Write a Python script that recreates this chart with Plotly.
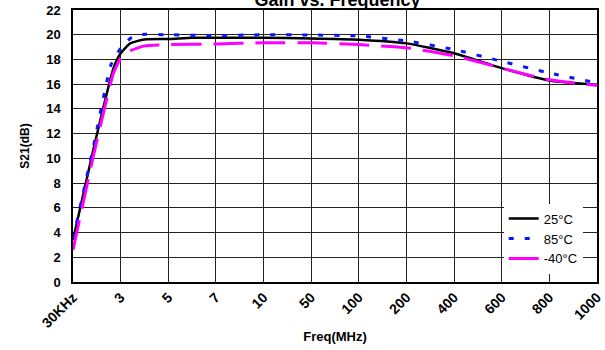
import plotly.graph_objects as go

tick_labels = ["30KHz", "3", "5", "7", "10", "50", "100", "200", "400", "600", "800", "1000"]

# positions along the evenly spaced category axis (0 = 30KHz ... 11 = 1000 MHz)
x_25 = [0, 0.42, 0.85, 1.0, 1.2, 1.5, 2, 2.5, 3, 4, 5, 6, 7, 8, 9, 10, 10.5, 11]
s21_25 = [3.4, 10.6, 17.3, 18.5, 19.3, 19.62, 19.65, 19.75, 19.75, 19.75, 19.7, 19.6, 19.3, 18.5, 17.3, 16.3, 16.1, 15.95]

x_85 = [0, 0.42, 0.8, 1.0, 1.2, 1.35, 2, 3, 4, 5, 6, 7, 8, 9, 10, 11]
s21_85 = [3.5, 10.8, 17.6, 18.9, 19.7, 20.0, 20.0, 19.93, 20.0, 19.98, 19.9, 19.5, 18.8, 17.85, 16.9, 16.1]

x_m40 = [0, 0.44, 0.85, 1.0, 1.2, 1.5, 2, 3, 4, 5, 6, 7, 8, 9, 10, 11]
s21_m40 = [2.6, 10.4, 16.9, 18.1, 18.7, 19.1, 19.2, 19.25, 19.35, 19.35, 19.2, 18.95, 18.3, 17.3, 16.35, 15.9]

fig = go.Figure()
fig.add_trace(go.Scatter(x=x_25, y=s21_25, name="25°C", mode="lines",
                         line=dict(color="black", width=2.5, shape="spline", smoothing=0.5)))
fig.add_trace(go.Scatter(x=x_85, y=s21_85, name="85°C", mode="lines",
                         line=dict(color="#0a14ff", width=3, dash="5px,11px", shape="spline", smoothing=0.5)))
fig.add_trace(go.Scatter(x=x_m40, y=s21_m40, name="-40°C", mode="lines",
                         line=dict(color="#ff00ff", width=3, dash="30px,12px", shape="spline", smoothing=0.5)))

font_family = "Liberation Sans, Arial, sans-serif"

fig.update_layout(
    width=605, height=350,
    margin=dict(l=73, r=1, t=10, b=68),
    paper_bgcolor="white", plot_bgcolor="white",
    font=dict(family=font_family, color="black"),
    title=dict(text="<b>Gain vs. Frequency</b>", font=dict(size=18, family=font_family),
               x=0.558, xanchor="center", yref="container", y=1.0, yanchor="middle"),
    showlegend=True,
    legend=dict(x=0.822, y=0.288, xanchor="left", yanchor="top",
                bgcolor="white", borderwidth=0, font=dict(size=13, family=font_family),
                tracegroupgap=0, itemwidth=30),
    xaxis=dict(range=[-0.0005, 11.0005], tickmode="array", tickvals=list(range(len(tick_labels))),
               ticktext=["<b>%s</b>" % t for t in tick_labels], tickangle=-45,
               tickfont=dict(size=14), showgrid=True, gridcolor="#222", gridwidth=1,
               showline=True, linecolor="black", linewidth=1.5, mirror=True, zeroline=False,
               ticks="", ticklabeloverflow="allow",
               title=dict(text="<b>Freq(MHz)</b>", font=dict(size=13), standoff=2)),
    yaxis=dict(range=[0, 22], tickmode="linear", tick0=0, dtick=2,
               tickfont=dict(size=13), showgrid=True, gridcolor="#222", gridwidth=1,
               showline=True, linecolor="black", linewidth=1.5, mirror=True, zeroline=False,
               ticks="", ticklabelstandoff=8,
               title=dict(text="<b>S21(dB)</b>", font=dict(size=12), standoff=14)),
)
fig.update_yaxes(tickprefix="<b>", ticksuffix="</b>")

fig.write_html("out.html")
